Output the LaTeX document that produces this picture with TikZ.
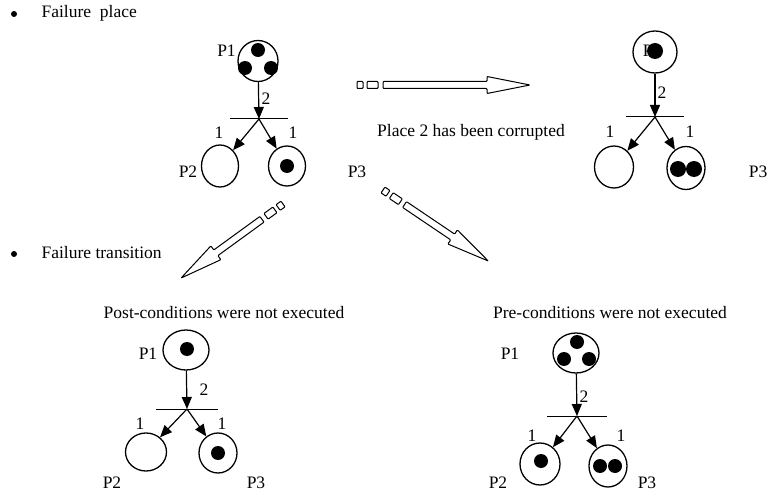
\documentclass[tikz,border=0pt]{standalone}
\usepackage{fontspec}
\setmainfont{Liberation Serif}
\usetikzlibrary{positioning, arrows.meta, shapes.geometric}

% big hollow arrow: start coordinate, angle, length
\newcommand{\hollowarrow}[3]{%
	\begin{scope}[shift={(#1)}, rotate=#2]
		\draw[hollow] (0,-3.5) rectangle (6,3.5);
		\draw[hollow] (10,-3.5) rectangle (21,3.5);
		\draw[hollow] (26,-3.5) -- ({#3-43},-3.5) -- ({#3-43},-8.5) -- (#3,0)
			-- ({#3-43},8.5) -- ({#3-43},3.5) -- (26,3.5) -- cycle;
	\end{scope}}

\begin{document}
\begin{tikzpicture}[
		x=1pt, y=-1pt,
		>={Triangle[length=12pt, width=10pt]}, % Arrow style
		line width=1.2pt,
		every node/.style={font=\fontsize{17.5}{20}\selectfont, inner sep=1pt},
		place/.style={draw, ellipse, inner sep=0, line width=1.3pt},
		token/.style={fill, circle, inner sep=0, minimum size=14},
		bar/.style={inner sep=0, minimum height=0, minimum width=#1},
		dot/.style={fill, circle, inner sep=0, minimum size=6},
		hollow/.style={line width=1pt, rounded corners=0.8pt, fill=white}
	]
	\useasboundingbox (0,0) rectangle (769,492);

	% Bullet headings
	\node[dot] (b1) at (14,14) {};
	\node[anchor=west] (h1) at (40,13) {Failure~~place};
	\node[dot] (b2) at (14,254) {};
	\node[anchor=west] (h2) at (40,253) {Failure transition};

	% Net before the failure
	\node[place, minimum width=40, minimum height=41] (a1) at (258,61) {};
	\node[token] (a1k1) at (258,50) {};
	\node[token] (a1k2) at (245,68) {};
	\node[token] (a1k3) at (271,68) {};
	\node[bar=56] (at) at (259,119) {};
	\node[place, minimum width=37, minimum height=42] (a2) at (220,166) {};
	\node[place, minimum width=37, minimum height=40] (a3) at (287,166) {};
	\node[token] (a3k1) at (287,166) {};
	\draw[line width=1pt] (at.west) -- (at.east);
	\draw[->] (a1) -- (at.center);
	\draw[->] (at.center) -- (a2);
	\draw[->] (at.center) -- (a3);
	\node[left=0pt of a1, yshift=10pt] (a1l) {P1};
	\node (a1w) at (266,99) {2};
	\node (a2w) at (219,133) {1};
	\node (a3w) at (293,133) {1};
	\node (a2l) at (188,172) {P2};
	\node (a3l) at (357,172) {P3};

	% Arrow to the corrupted net
	\coordinate (s1) at (357,85);
	\hollowarrow{s1}{0}{173}
	\node (c1) at (471,132) {Place 2 has been corrupted};

	% Net with place 2 corrupted
	\node[place, minimum width=44, minimum height=42] (r1) at (655,52) {};
	\node (r1l) at (652,51) {P1};
	\node[token, minimum size=16] (r1k1) at (655,51) {};
	\node[bar=57] (rt) at (655,117) {};
	\node[place, minimum width=39, minimum height=42] (r2) at (614,167) {};
	\node[place, minimum width=38, minimum height=43] (r3) at (686,168) {};
	\node[token, minimum size=16] (r3k1) at (678,169) {};
	\node[token, minimum size=16] (r3k2) at (694,169) {};
	\draw[line width=1pt] (rt.west) -- (rt.east);
	\draw[->] (r1) -- (rt.center);
	\draw[->] (rt.center) -- (r2);
	\draw[->] (rt.center) -- (r3);
	\node (r1w) at (662,93) {2};
	\node (r2w) at (610,132) {1};
	\node (r3w) at (690,132) {1};
	\node[anchor=east] (r3l) at (769,172) {P3};

	% Arrows to the failure transition nets
	\coordinate (s2) at (283,204);
	\hollowarrow{s2}{216}{126}
	\coordinate (s3) at (383,190);
	\hollowarrow{s3}{-34}{127}

	% Post-conditions not executed
	\node (t1) at (224,313) {Post-conditions were not executed};
	\node[place, minimum width=46, minimum height=40] (p1) at (186,350) {};
	\node[token] (p1k1) at (187,349) {};
	\node[bar=60] (pt) at (187,409) {};
	\node[place, minimum width=41, minimum height=38] (p2) at (146,452) {};
	\node[place, minimum width=38, minimum height=40] (p3) at (218,453) {};
	\node[token] (p3k1) at (218,453) {};
	\draw[line width=1pt] (pt.west) -- (pt.east);
	\draw[->] (p1) -- (pt.center);
	\draw[->] (pt.center) -- (p2);
	\draw[->] (pt.center) -- (p3);
	\node (p1l) at (148,354) {P1};
	\node (p1w) at (204,390) {2};
	\node (p2w) at (140,424) {1};
	\node (p3w) at (222,424) {1};
	\node (p2l) at (112,483) {P2};
	\node (p3l) at (256,483) {P3};

	% Pre-conditions not executed
	\node (t2) at (610,313) {Pre-conditions were not executed};
	\node[place, minimum width=46, minimum height=40] (q1) at (576,353) {};
	\node[token] (q1k1) at (577,342) {};
	\node[token] (q1k2) at (564,359) {};
	\node[token] (q1k3) at (589,359) {};
	\node[bar=59] (qt) at (577,416) {};
	\node[place, minimum width=40, minimum height=42] (q2) at (540,464) {};
	\node[place, minimum width=38, minimum height=42] (q3) at (608,466) {};
	\node[token] (q2k1) at (541,461) {};
	\node[token] (q3k1) at (600,466) {};
	\node[token] (q3k2) at (615,466) {};
	\draw[line width=1pt] (qt.west) -- (qt.east);
	\draw[->] (q1) -- (qt.center);
	\draw[->] (qt.center) -- (q2);
	\draw[->] (qt.center) -- (q3);
	\node (q1l) at (510,354) {P1};
	\node (q1w) at (584,397) {2};
	\node (q2w) at (532,436) {1};
	\node (q3w) at (621,436) {1};
	\node (q2l) at (498,483) {P2};
	\node (q3l) at (647,483) {P3};
\end{tikzpicture}
\end{document}
